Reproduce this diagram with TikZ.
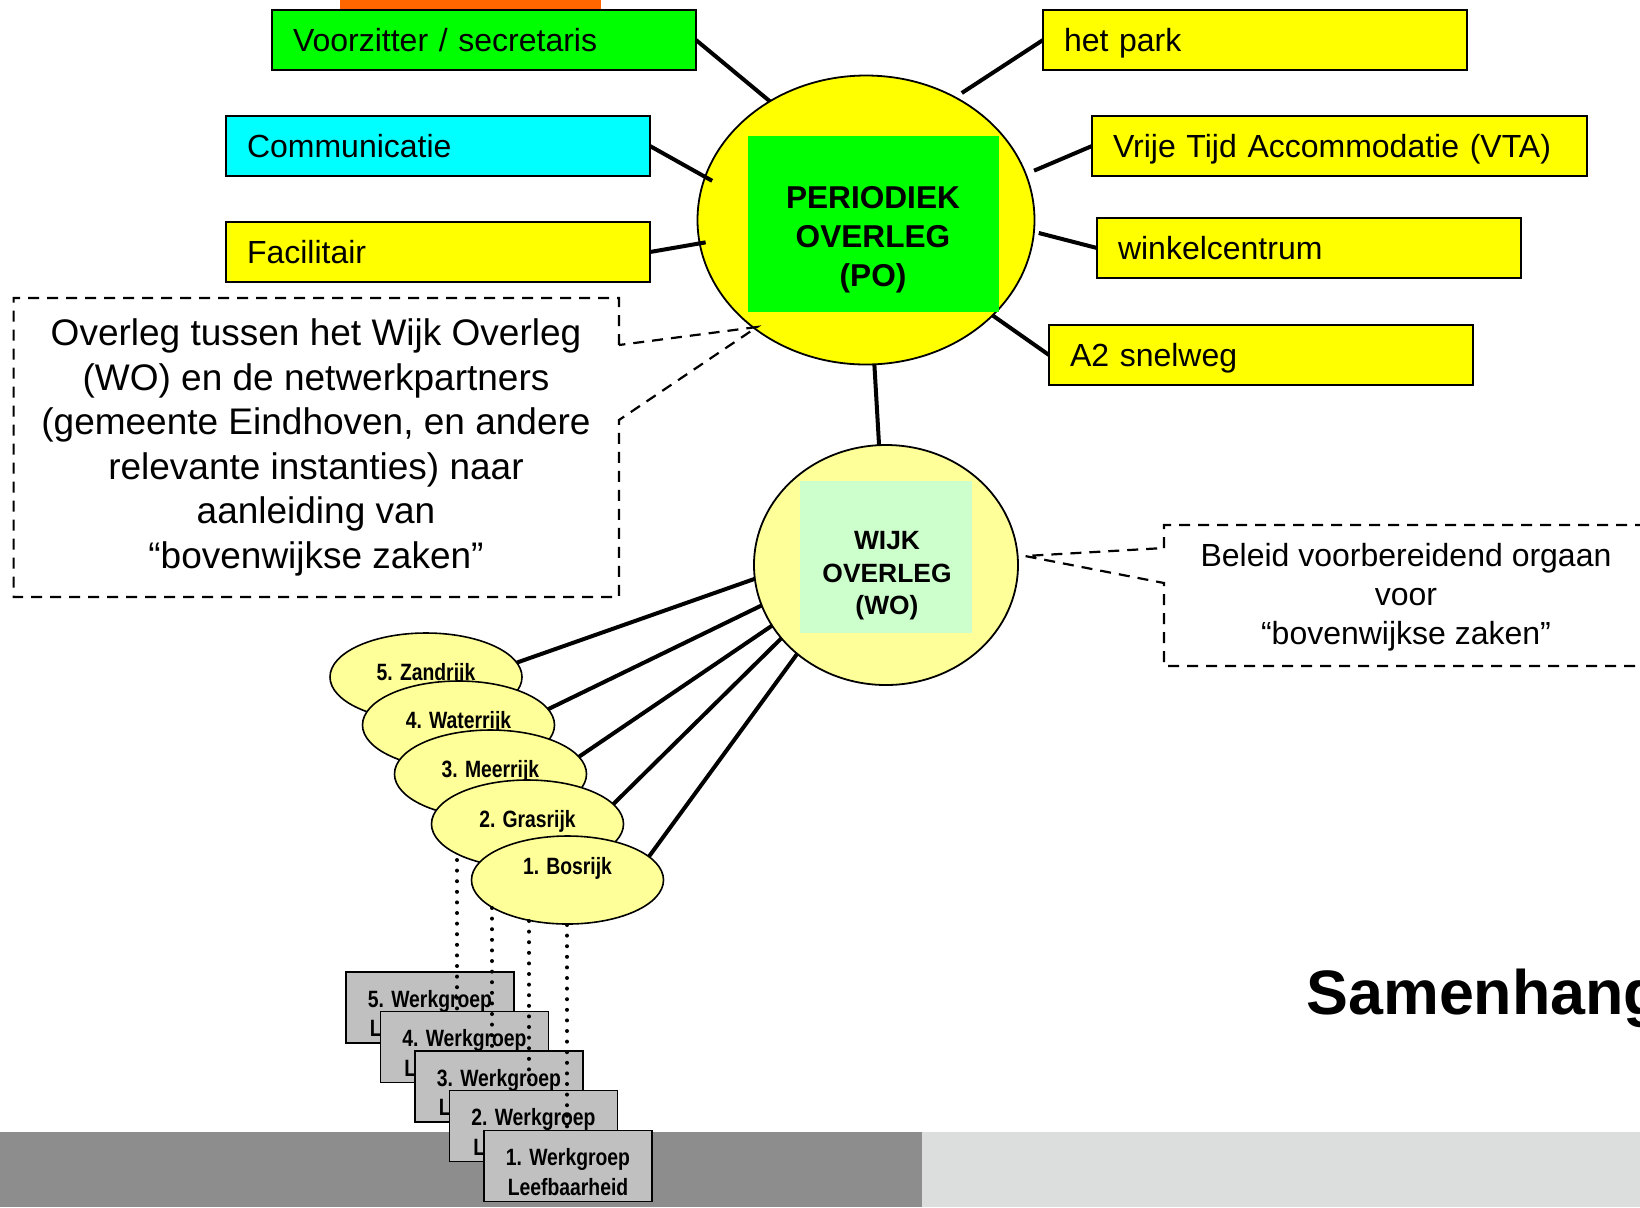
\documentclass[tikz,border=0pt]{standalone}
\usepackage{fontspec}
\setmainfont{Liberation Sans}
\newfontfamily\narrowfont[FakeStretch=0.82]{Liberation Sans}
\usetikzlibrary{shapes.geometric}
\definecolor{pogreen}{HTML}{00FF00}
\definecolor{pocyan}{HTML}{00FFFF}
\definecolor{poyellow}{HTML}{FFFF00}
\definecolor{wijkyellow}{HTML}{FFFF99}
\definecolor{wogreen}{HTML}{CCFFCC}
\definecolor{wgrey}{HTML}{C0C0C0}
\definecolor{barorange}{HTML}{FF6600}
\definecolor{bardark}{HTML}{8C8D8C}
\definecolor{barlight}{HTML}{DCDDDD}

\begin{document}
\begin{tikzpicture}[x=0.5pt,y=-0.5pt]
        \tikzstyle{partner}=[rectangle,draw=black,line width=1pt,minimum height=30pt,inner xsep=10.5pt,inner ysep=0pt,outer sep=0pt,text width=191pt,text height=11.7pt,text depth=0pt,align=left,font=\fontsize{16}{19}\selectfont]
        \tikzstyle{spoke}=[draw,line width=2pt]
        \tikzstyle{wijk}=[ellipse,draw=black,line width=0.8pt,fill=wijkyellow,minimum width=96pt,minimum height=44pt,inner sep=0pt,outer sep=0pt,text height=8.5pt,text depth=5pt,font=\narrowfont\bfseries\fontsize{11.8}{14.6}\selectfont]
        \tikzstyle{werkgroep}=[rectangle,draw=black,line width=0.8pt,fill=wgrey,minimum width=84pt,minimum height=35.5pt,inner sep=0pt,outer sep=0pt,align=center,font=\narrowfont\bfseries\fontsize{11.8}{14.6}\selectfont]
        \tikzstyle{callout}=[draw,line width=1.1pt,dash pattern=on 5.5pt off 4pt]
        \tikzstyle{dots}=[draw,line width=2pt,line cap=round,dash pattern=on 0pt off 5.3pt]
        \useasboundingbox (0,0) rectangle (1640,1207);
        \clip (0,0) rectangle (1640,1207);

        % background bars
        \fill[bardark] (0,1132) rectangle (922,1207);
        \fill[barlight] (922,1132) rectangle (1640,1207);
        \fill[barorange] (340,0) rectangle (601,9.5);

        % periodiek overleg
        \node [ellipse,draw=black,line width=0.9pt,fill=poyellow,minimum width=168.5pt,minimum height=144.5pt,outer sep=0pt] (po) at (866,220) {};
        \node [fill=pogreen,minimum width=125.5pt,minimum height=88pt] (pobox) at (873.5,224) {};
        \node [font=\bfseries\fontsize{15.8}{19.4}\selectfont,align=center] (potitle) at (873,240) {PERIODIEK\\OVERLEG\\(PO)};

        % partners
        \node [partner,fill=pogreen] (voorz) at (484,40) {Voorzitter / secretaris};
        \node [partner,fill=pocyan] (comm) at (438,146) {Communicatie};
        \node [partner,fill=poyellow] (facil) at (438,252) {Facilitair};
        \node [partner,fill=poyellow] (park) at (1255,40) {het park};
        \node [partner,fill=poyellow,text width=226.5pt] (vta) at (1339.5,146) {Vrije Tijd Accommodatie (VTA)};
        \node [partner,fill=poyellow] (winkel) at (1309,248) {winkelcentrum};
        \node [partner,fill=poyellow] (snelweg) at (1261,355) {A2 snelweg};

        \path[spoke] (voorz.east) edge (po.129);
        \path[spoke] (comm.east) edge[shorten >=-4pt] (po.165);
        \path[spoke] (facil.east) edge[shorten >=-3pt] (po.188);
        \path[spoke] (park.west) edge[shorten >=4pt] (po.54);
        \path[spoke] (vta.west) edge[shorten >=4.5pt] (po.16);
        \path[spoke] (winkel.west) edge[shorten >=2.5pt] (po.356);
        \path[spoke] (snelweg.west) edge (po.323);

        % wijk overleg
        \node [ellipse,draw=black,line width=0.9pt,fill=wijkyellow,minimum width=132pt,minimum height=120pt,outer sep=0pt] (wo) at (886,565) {};
        \node [fill=wogreen,minimum width=86pt,minimum height=76pt] (wobox) at (886,557) {};
        \node [font=\bfseries\fontsize{13.2}{16.2}\selectfont,align=center] (wotitle) at (887,576) {WIJK\\OVERLEG\\(WO)};
        \path[spoke] (po) edge (wo);

        % callouts
        \draw[callout] (619,345) -- (619,298) -- (13.6,298) -- (13.6,597) -- (619,597) -- (619,420) -- (757,327) -- cycle;
        \node [font=\fontsize{18.5}{22.3}\selectfont,align=center] (ponote) at (316,447.5) {Overleg tussen het Wijk Overleg\\(WO) en de netwerkpartners\\(gemeente Eindhoven, en andere\\relevante instanties) naar\\aanleiding van\\“bovenwijkse zaken”};
        \draw[callout] (1164,548) -- (1164,525) -- (1650,525) -- (1650,666) -- (1164,666) -- (1164,583) -- (1025,556) -- cycle;
        \node [font=\fontsize{16}{19.4}\selectfont,align=center] (wonote) at (1406,597.5) {Beleid voorbereidend orgaan\\voor\\“bovenwijkse zaken”};

        % wijken
        \node [wijk] (zand) at (426,677) {5. Zandrijk};
        \node [wijk] (water) at (458.5,725) {4. Waterrijk};
        \node [wijk] (meer) at (490.5,774) {3. Meerrijk};
        \node [wijk] (gras) at (527.5,824) {2. Grasrijk};
        \node [wijk,text depth=14pt] (bos) at (567.5,880) {1. Bosrijk};

        \path[spoke] (zand.9) edge (wo.186);
        \path[spoke] (water.10) edge (wo.198);
        \path[spoke] (meer.11) edge (wo.208);
        \path[spoke] (gras.13) edge (wo.215);
        \path[spoke] (bos.16) edge (wo.225);

        % werkgroepen
        \node [werkgroep] (w5) at (430,1007.5) {\rule{0pt}{14.6pt}5. Werkgroep\\Leefbaarheid};
        \node [werkgroep] (w4) at (464.5,1047) {\rule{0pt}{14.6pt}4. Werkgroep\\Leefbaarheid};
        \node [werkgroep] (w3) at (499,1086.5) {\rule{0pt}{14.6pt}3. Werkgroep\\Leefbaarheid};
        \node [werkgroep] (w2) at (533.5,1126) {\rule{0pt}{14.6pt}2. Werkgroep\\Leefbaarheid};
        \node [werkgroep] (w1) at (568,1166) {\rule{0pt}{14.6pt}1. Werkgroep\\Leefbaarheid};

        \coordinate (d1) at (457,860);
        \coordinate (d2) at (492,908);
        \coordinate (d3) at (529,921);
        \coordinate (d4) at (567,925);
        \path[dots] (d1) -- (d1 |- w4.north);
        \path[dots] (d2) -- (d2 |- w3.north);
        \path[dots] (d3) -- (d3 |- w2.north);
        \path[dots] (d4) -- (d4 |- w1.north);

        \node [anchor=base west,inner sep=0pt,font=\bfseries\fontsize{31.4}{38}\selectfont] (title) at (1306,1014) {Samenhang};
\end{tikzpicture}
\end{document}
